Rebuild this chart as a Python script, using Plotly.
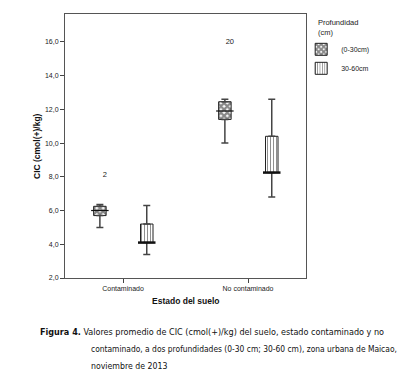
import plotly.graph_objects as go

categories = ["Contaminado", "No contaminado"]
depths = ["(0-30cm)", "30-60cm"]

# box statistics per depth (one value per category)
lower_0_30 = [5.0, 10.0]
q1_0_30 = [5.7, 11.4]
median_0_30 = [6.0, 11.9]
q3_0_30 = [6.25, 12.45]
upper_0_30 = [6.35, 12.6]

lower_30_60 = [3.4, 6.8]
q1_30_60 = [4.1, 8.25]
median_30_60 = [4.1, 8.25]
q3_30_60 = [5.2, 10.4]
upper_30_60 = [6.3, 12.6]

outlier_values = [8.1, 16.0]
outlier_labels = ["2", "20"]

yticks = [2, 4, 6, 8, 10, 12, 14, 16]

FONT = "Liberation Sans"
offsets = [-0.185, 0.19]
box_w = 0.1

stats = [
    (depths[0], lower_0_30, q1_0_30, median_0_30, q3_0_30, upper_0_30,
     dict(shape="x", fgcolor="#111", bgcolor="white", size=4.5, solidity=0.75), 1.2),
    (depths[1], lower_30_60, q1_30_60, median_30_60, q3_30_60, upper_30_60,
     dict(shape="|", fgcolor="#222", bgcolor="white", size=3, solidity=0.35), 2.5),
]

fig = go.Figure()
idx = list(range(len(categories)))
for k, (name, lo, q1, med, q3, up, pat, mw) in enumerate(stats):
    xs = [i + offsets[k] for i in idx]
    fig.add_trace(go.Bar(
        x=xs, y=[b - a for a, b in zip(q1, q3)], base=q1, width=box_w,
        name=name, marker=dict(color="white", pattern=pat, line=dict(color="#222", width=1)),
        showlegend=True, hoverinfo="skip"))
    # upper whiskers
    fig.add_trace(go.Scatter(
        x=xs, y=q3, mode="markers", marker=dict(color="rgba(0,0,0,0)", size=1),
        error_y=dict(type="data", symmetric=False, array=[u - q for u, q in zip(up, q3)],
                     arrayminus=[0] * len(q3), color="#444", thickness=1.5, width=3.5),
        showlegend=False, hoverinfo="skip"))
    # lower whiskers
    fig.add_trace(go.Scatter(
        x=xs, y=q1, mode="markers", marker=dict(color="rgba(0,0,0,0)", size=1),
        error_y=dict(type="data", symmetric=False, array=[0] * len(q1),
                     arrayminus=[q - l for q, l in zip(q1, lo)], color="#444", thickness=1.5, width=3.5),
        showlegend=False, hoverinfo="skip"))
    # medians
    fig.add_trace(go.Scatter(
        x=xs, y=med, mode="markers",
        marker=dict(symbol="line-ew", size=12.5, line=dict(color="#111", width=mw)),
        showlegend=False, hoverinfo="skip"))

fig.add_trace(go.Scatter(
    x=[i + offsets[0] + 0.04 for i in idx], y=outlier_values, mode="text",
    text=outlier_labels, textfont=dict(family=FONT, size=7.5, color="#222"),
    showlegend=False, hoverinfo="skip"))

fig.update_layout(
    width=404, height=388,
    margin=dict(l=65, r=98, t=14, b=110),
    paper_bgcolor="white", plot_bgcolor="white",
    barmode="overlay", separators=",.",
    font=dict(family=FONT, size=7, color="#222"),
    legend=dict(x=0.98, y=0.995, xanchor="left", yanchor="top",
                title=dict(text="Profundidad<br>(cm)", side="top center",
                           font=dict(family=FONT, size=7.5, color="#222")),
                font=dict(family=FONT, size=7, color="#222"),
                bgcolor="rgba(0,0,0,0)", tracegroupgap=0),
    xaxis=dict(range=[-0.464, 1.464], tickvals=idx, ticktext=categories,
               ticks="outside", ticklen=4, tickcolor="#444",
               showline=True, mirror=True, linecolor="#555", linewidth=1,
               showgrid=False, zeroline=False,
               tickfont=dict(family=FONT, size=7, color="#222")),
    yaxis=dict(range=[2, 17.65], tickvals=yticks, tickformat=".1f",
               ticks="outside", ticklen=4, tickcolor="#444",
               showline=True, mirror=True, linecolor="#555", linewidth=1,
               showgrid=False, zeroline=False,
               tickfont=dict(family=FONT, size=7, color="#222")),
)

fig.add_annotation(text="<b>CIC (cmol(+)/kg)</b>", xref="paper", yref="paper",
                   x=0, y=0.5, xshift=-28, xanchor="center", yanchor="middle",
                   textangle=-90, showarrow=False,
                   font=dict(family=FONT, size=8.5, color="#111"))
fig.add_annotation(text="<b>Estado del suelo</b>", xref="paper", yref="paper",
                   x=0.5, y=0, yshift=-23, xanchor="center", yanchor="middle",
                   showarrow=False,
                   font=dict(family=FONT, size=8.5, color="#111"))

CAP = "DejaVu Sans Condensed"
cap_lines = [
    (38, 332, "<b>Figura 4.</b> Valores promedio de CIC (cmol(+)/kg) del suelo, estado contaminado y no", 9),
    (89, 349, "contaminado, a dos profundidades (0-30 cm; 30-60 cm), zona urbana de Maicao,", 8.4),
    (89, 366, "noviembre de 2013", 8.7),
]
for px, py, t, fs in cap_lines:
    fig.add_annotation(text=t, xref="paper", yref="paper",
                       x=(px - 65) / 241, y=(278 - py) / 264,
                       xanchor="left", yanchor="middle", showarrow=False,
                       font=dict(family=CAP, size=fs, color="#111"))

fig.write_html("out.html", config={"displayModeBar": False},
               post_script="document.body.style.margin='0';")
